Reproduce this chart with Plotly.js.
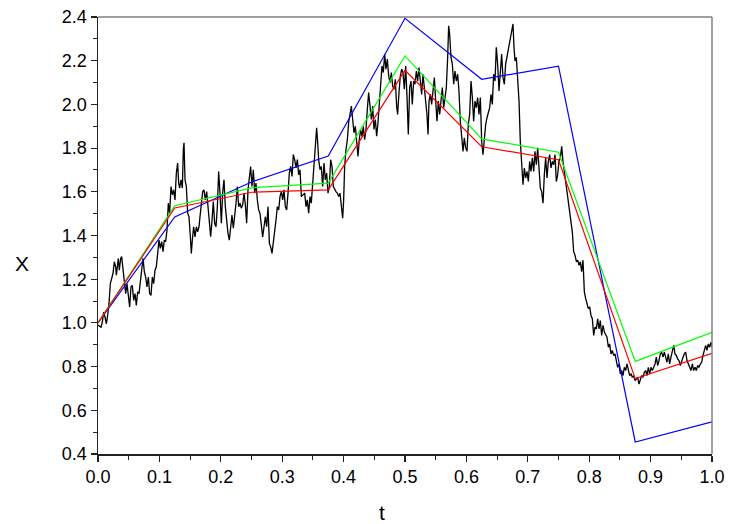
<!DOCTYPE html>
<html>
<head>
<meta charset="utf-8">
<script src="https://cdn.plot.ly/plotly-3.0.1.min.js"></script>
<style>
  html, body { margin: 0; padding: 0; background: #ffffff; }
  #chart { width: 729px; height: 524px; }
</style>
</head>
<body>
<div id="chart"></div>
<script>
// Sample path X(t)
const pathT = [
  0, 0.0049, 0.0071, 0.0092, 0.0114, 0.0136, 0.0157, 0.0179, 0.0201, 0.0223,
  0.0244, 0.0266, 0.0288, 0.0299, 0.0315, 0.0331, 0.0347, 0.0369, 0.0385, 0.0407,
  0.0429, 0.0451, 0.0472, 0.0494, 0.0516, 0.0537, 0.0559, 0.0581, 0.0603, 0.0624,
  0.0646, 0.0668, 0.0689, 0.0711, 0.0733, 0.0755, 0.0776, 0.0798, 0.082, 0.0841,
  0.0863, 0.0885, 0.0907, 0.0928, 0.095, 0.0972, 0.0993, 0.1015, 0.1037, 0.1059,
  0.108, 0.1102, 0.1124, 0.1145, 0.1167, 0.1189, 0.1211, 0.1232, 0.1254, 0.1276,
  0.1297, 0.1314, 0.133, 0.1352, 0.1374, 0.139, 0.1401, 0.1417, 0.1439, 0.146,
  0.1482, 0.1504, 0.152, 0.1536, 0.1558, 0.158, 0.1602, 0.1623, 0.1645,
  0.1661, 0.1683, 0.1705, 0.1726, 0.1748, 0.177, 0.1792, 0.1813, 0.1835, 0.1857,
  0.1878, 0.19, 0.1922, 0.1944, 0.1965, 0.1987, 0.2009, 0.203, 0.2052, 0.2074,
  0.2096, 0.2117, 0.2139, 0.2161, 0.2182, 0.2204, 0.2226, 0.2248, 0.2269, 0.2291,
  0.2313, 0.2334, 0.2356, 0.2378, 0.24, 0.2421, 0.2443, 0.2465, 0.2486, 0.2508,
  0.253, 0.2552, 0.2573, 0.2595, 0.2617, 0.2638, 0.266, 0.2682, 0.2704, 0.2725,
  0.2747, 0.2769, 0.2791, 0.2812, 0.2834, 0.2856, 0.2877, 0.2899, 0.2921, 0.2943,
  0.2964, 0.2986, 0.3008, 0.3029, 0.3051, 0.3073, 0.3095, 0.3116, 0.3138, 0.316,
  0.3181, 0.3203, 0.3225, 0.3247, 0.3268, 0.329, 0.3312,
  0.3366, 0.3388, 0.3409, 0.3431, 0.3453, 0.3474, 0.3496, 0.3518, 0.354, 0.3561,
  0.3578, 0.3594, 0.3616, 0.3637, 0.3659, 0.3681, 0.3702, 0.3724, 0.3746, 0.3768,
  0.3789, 0.3811, 0.3833, 0.3854, 0.3876, 0.3898, 0.392, 0.3941, 0.3963, 0.3985,
  0.4001, 0.4017, 0.4039, 0.4061, 0.4082, 0.4104, 0.4126, 0.4148, 0.4169, 0.4191,
  0.4213, 0.4234, 0.4256, 0.4278, 0.43, 0.4321, 0.4343, 0.4365, 0.4386, 0.4408,
  0.443, 0.4452, 0.4473, 0.4495, 0.4517, 0.4538, 0.456, 0.4582, 0.4604, 0.4625,
  0.4647, 0.4669, 0.469, 0.4712, 0.4734, 0.4756, 0.4777, 0.4799, 0.4821, 0.4842,
  0.4864, 0.488, 0.4902, 0.4924, 0.4946, 0.4967, 0.4989,
  0.5011, 0.5033, 0.5054, 0.5076, 0.5098, 0.5119, 0.5141, 0.5163, 0.5185, 0.5206,
  0.5228, 0.525, 0.5271, 0.5293, 0.5315, 0.5337, 0.5358, 0.5375, 0.5391, 0.5413,
  0.5434, 0.5456, 0.5478, 0.55, 0.5521, 0.5543, 0.5565, 0.5586, 0.5608, 0.563,
  0.5651, 0.5673, 0.5695, 0.5711, 0.5727, 0.5749, 0.5771, 0.5793, 0.5814, 0.5836,
  0.5858, 0.5879, 0.5901, 0.5923, 0.5945, 0.5966, 0.5988, 0.601, 0.6031, 0.6053,
  0.6075, 0.6097, 0.6118, 0.614, 0.6162, 0.6183, 0.6205, 0.6227, 0.6249, 0.627,
  0.6292, 0.6314, 0.6335, 0.6357, 0.6379, 0.6401, 0.6422, 0.6444, 0.6466, 0.6487,
  0.6509, 0.6531, 0.6553, 0.6574, 0.6596, 0.6618, 0.6639, 0.6661,
  0.6694, 0.6716, 0.6737, 0.6759, 0.6775, 0.6792, 0.6813, 0.6835, 0.6857, 0.6878,
  0.69, 0.6922, 0.6944, 0.6965, 0.6987, 0.7009, 0.703, 0.7052, 0.7074, 0.7096,
  0.7117, 0.7139, 0.7161, 0.7182, 0.7204, 0.7226, 0.7248, 0.7269, 0.7291, 0.7313,
  0.7334, 0.7356, 0.7378, 0.74, 0.7421, 0.7443, 0.7465, 0.7486, 0.7508, 0.753,
  0.7552, 0.7573, 0.7595, 0.7617, 0.7638, 0.766, 0.7682, 0.7704, 0.7725, 0.7736,
  0.7747, 0.7769, 0.7791, 0.7812, 0.7834, 0.7856, 0.7877, 0.7899, 0.7921, 0.7943,
  0.7964, 0.7986, 0.8008, 0.8029, 0.8051, 0.8073, 0.8095, 0.8116, 0.8138, 0.816,
  0.8181, 0.8203, 0.8225, 0.8247,
  0.829, 0.8312, 0.8333, 0.8355, 0.8377, 0.8398, 0.842, 0.8442, 0.8464, 0.8485,
  0.8507, 0.8529, 0.855, 0.8572, 0.8594, 0.8616, 0.8637, 0.8659, 0.8681, 0.8702,
  0.8724, 0.8746, 0.8768, 0.8789, 0.8811, 0.8833, 0.8854, 0.8876, 0.8898, 0.892,
  0.8941, 0.8963, 0.8985, 0.9006, 0.9028, 0.905, 0.9072, 0.9093, 0.9115, 0.9137,
  0.9158, 0.918, 0.9202, 0.9224, 0.9245, 0.9267, 0.9289, 0.931, 0.9332, 0.9354,
  0.9376, 0.9397, 0.9419, 0.9441, 0.9462, 0.9484, 0.9506, 0.9528, 0.9549, 0.9571,
  0.9593, 0.9614, 0.9636, 0.9658, 0.968, 0.9701, 0.9723, 0.9745, 0.9766, 0.9788,
  0.981, 0.9832, 0.9853, 0.9875, 0.9897, 0.9918, 0.994, 0.9962, 0.9984, 1.0
];
const pathX = [
  0.99, 0.98, 1.004, 1.05, 1.027, 0.996, 1.034, 1.088, 1.18, 1.21,
  1.226, 1.28, 1.257, 1.218, 1.28, 1.295, 1.241, 1.295, 1.303, 1.234,
  1.188, 1.134, 1.18, 1.119, 1.073, 1.165, 1.172, 1.103, 1.134, 1.08,
  1.142, 1.134, 1.18, 1.241, 1.295, 1.234, 1.21, 1.165, 1.21, 1.134,
  1.126, 1.21, 1.18, 1.241, 1.257, 1.318, 1.379, 1.341, 1.372, 1.326,
  1.379, 1.372, 1.425, 1.548, 1.502, 1.624, 1.586, 1.609, 1.563, 1.686,
  1.732, 1.64, 1.617, 1.655, 1.617, 1.793, 1.824, 1.655, 1.624, 1.502,
  1.486, 1.394, 1.318, 1.379, 1.44, 1.394, 1.44, 1.417, 1.44,
  1.486, 1.548, 1.601, 1.609, 1.563, 1.601, 1.517, 1.456, 1.394, 1.471,
  1.555, 1.456, 1.44, 1.532, 1.693, 1.594, 1.456, 1.594, 1.655, 1.532,
  1.456, 1.41, 1.379, 1.448, 1.494, 1.433, 1.486, 1.548, 1.624, 1.532,
  1.548, 1.525, 1.54, 1.594, 1.54, 1.456, 1.609, 1.67, 1.716, 1.624,
  1.701, 1.594, 1.64, 1.563, 1.517, 1.502, 1.44, 1.394, 1.44, 1.486,
  1.44, 1.532, 1.364, 1.348, 1.318, 1.364, 1.41, 1.471, 1.532, 1.517,
  1.578, 1.601, 1.563, 1.609, 1.532, 1.517, 1.594, 1.686, 1.716, 1.67,
  1.77, 1.747, 1.709, 1.747, 1.678, 1.701, 1.578,
  1.594, 1.532, 1.563, 1.502, 1.578, 1.548, 1.64, 1.747, 1.839, 1.893,
  1.824, 1.747, 1.701, 1.716, 1.624, 1.732, 1.655, 1.686, 1.594, 1.624,
  1.747, 1.716, 1.624, 1.609, 1.601, 1.594, 1.578, 1.594, 1.532, 1.479,
  1.563, 1.716, 1.793, 1.839, 1.916, 1.962, 1.992, 1.931, 1.87, 1.9,
  1.839, 1.762, 1.839, 1.885, 1.854, 1.9, 1.839, 1.885, 1.977, 2.054,
  1.992, 1.931, 1.992, 1.885, 1.931, 1.854, 1.916, 2.023, 2.084, 2.176,
  2.146, 2.23, 2.161, 2.207, 2.13, 2.1, 2.146, 2.084, 2.069, 2.115,
  1.992, 1.954, 2.054, 2.13, 2.161, 2.146, 2.069,
  2.176, 2.031, 1.862, 2.077, 2.107, 2.0, 2.107, 2.092, 2.153, 2.107,
  2.169, 2.107, 2.046, 2.138, 2.077, 2.031, 1.954, 1.862, 2.015, 2.046,
  2.0, 2.061, 2.123, 2.015, 1.923, 2.015, 1.954, 2.015, 2.077, 1.985,
  2.031, 2.077, 2.215, 2.36, 2.322, 2.215, 2.184, 2.092, 2.153, 2.107,
  2.138, 2.061, 1.923, 1.831, 1.785, 1.847, 1.801, 1.785, 1.908, 1.954,
  2.107, 2.031, 1.923, 2.015, 1.985, 2.031, 1.954, 2.031, 1.831, 1.77,
  1.862, 1.908, 1.939, 1.969, 1.985, 2.046, 2.0, 2.138, 2.107, 2.261,
  2.184, 2.061, 2.153, 2.23, 2.123, 2.092, 2.184, 2.215,
  2.261, 2.307, 2.337, 2.368, 2.261, 2.199, 2.215, 2.107, 2.015, 1.831,
  1.739, 1.632, 1.709, 1.663, 1.693, 1.647, 1.739, 1.693, 1.755, 1.693,
  1.785, 1.724, 1.801, 1.709, 1.617, 1.601, 1.548, 1.678, 1.755, 1.663,
  1.739, 1.77, 1.709, 1.739, 1.724, 1.77, 1.647, 1.678, 1.739, 1.755,
  1.808, 1.739, 1.693, 1.647, 1.601, 1.555, 1.509, 1.463, 1.417, 1.372,
  1.326, 1.31, 1.28, 1.287, 1.264, 1.28, 1.234, 1.287, 1.142, 1.111,
  1.08, 1.065, 1.073, 1.034, 1.019, 0.943, 0.981, 0.973, 1.019, 0.973,
  1.011, 0.943, 0.989, 0.958,
  0.935, 0.889, 0.904, 0.858, 0.874, 0.851, 0.858, 0.82, 0.797, 0.812,
  0.766, 0.782, 0.759, 0.797, 0.782, 0.812, 0.782, 0.759, 0.766, 0.751,
  0.759, 0.736, 0.743, 0.751, 0.72, 0.743, 0.759, 0.751, 0.774, 0.782,
  0.759, 0.797, 0.766, 0.797, 0.782, 0.797, 0.812, 0.843, 0.805, 0.828,
  0.858, 0.866, 0.843, 0.866, 0.843, 0.82, 0.858, 0.812, 0.843, 0.874,
  0.897, 0.858, 0.851, 0.835, 0.828, 0.805, 0.828, 0.843, 0.858, 0.866,
  0.828, 0.812, 0.789, 0.782, 0.812, 0.782, 0.797, 0.782, 0.805, 0.797,
  0.812, 0.82, 0.851, 0.881, 0.897, 0.874, 0.904, 0.889, 0.912, 0.889
];

// Coarse piecewise-linear approximations on the grid t = k/8
const gridT = [0, 0.125, 0.25, 0.375, 0.5, 0.625, 0.75, 0.875, 1.0];
const blueX  = [1.0, 1.485, 1.645, 1.764, 2.394, 2.115, 2.175, 0.455, 0.547];
const greenX = [1.0, 1.536, 1.618, 1.640, 2.222, 1.842, 1.781, 0.824, 0.957];
const redX   = [1.0, 1.526, 1.598, 1.609, 2.156, 1.806, 1.747, 0.745, 0.861];

// Axis tick labels
const xTickVals = [0, 0.1, 0.2, 0.3, 0.4, 0.5, 0.6, 0.7, 0.8, 0.9, 1.0];
const xTickText = ['0.0', '0.1', '0.2', '0.3', '0.4', '0.5', '0.6', '0.7', '0.8', '0.9', '1.0'];
const yTickVals = [0.4, 0.6, 0.8, 1.0, 1.2, 1.4, 1.6, 1.8, 2.0, 2.2, 2.4];
const yTickText = ['0.4', '0.6', '0.8', '1.0', '1.2', '1.4', '1.6', '1.8', '2.0', '2.2', '2.4'];

const FONT = 'Liberation Sans, Arial, Helvetica, sans-serif';

const traces = [
  { x: pathT, y: pathX, mode: 'lines', line: { color: '#000000', width: 1.3 }, hoverinfo: 'skip' },
  { x: gridT, y: blueX, mode: 'lines', line: { color: '#0000ff', width: 1.2 }, hoverinfo: 'skip' },
  { x: gridT, y: greenX, mode: 'lines', line: { color: '#00ff00', width: 1.2 }, hoverinfo: 'skip' },
  { x: gridT, y: redX, mode: 'lines', line: { color: '#ff0000', width: 1.2 }, hoverinfo: 'skip' }
];

const axisCommon = {
  showgrid: false,
  zeroline: false,
  showline: true,
  linecolor: '#222222',
  linewidth: 1.5,
  ticks: 'outside',
  ticklen: 6,
  tickwidth: 1.2,
  tickcolor: '#222222',
  tickfont: { family: FONT, size: 18, color: '#000000' },
  tickmode: 'array',
  layer: 'above traces'
};

const layout = {
  width: 729,
  height: 524,
  margin: { l: 98, r: 17, t: 17, b: 70, pad: 0 },
  paper_bgcolor: '#ffffff',
  plot_bgcolor: '#ffffff',
  showlegend: false,
  hovermode: false,
  xaxis: Object.assign({}, axisCommon, {
    range: [0, 1],
    tickvals: xTickVals,
    ticktext: xTickText,
    minor: { tickvals: [0.05, 0.15, 0.25, 0.35, 0.45, 0.55, 0.65, 0.75, 0.85, 0.95], ticks: 'outside', ticklen: 4, tickwidth: 1, tickcolor: '#222222', showgrid: false }
  }),
  yaxis: Object.assign({}, axisCommon, {
    range: [0.4, 2.4],
    tickvals: yTickVals,
    ticktext: yTickText,
    minor: { tickvals: [0.5, 0.7, 0.9, 1.1, 1.3, 1.5, 1.7, 1.9, 2.1, 2.3], ticks: 'outside', ticklen: 4, tickwidth: 1, tickcolor: '#222222', showgrid: false }
  }),
  shapes: [
    // light frame closing the top and right sides of the plot box
    { type: 'line', xref: 'paper', yref: 'paper', x0: 0, x1: 1, y0: 1, y1: 1, line: { color: '#808080', width: 1.5 } },
    { type: 'line', xref: 'paper', yref: 'paper', x0: 1, x1: 1, y0: 0, y1: 1, line: { color: '#808080', width: 1.5 } }
  ],
  annotations: [
    { text: 't', xref: 'paper', yref: 'paper', x: 0.4625, y: -0.104, xanchor: 'center', yanchor: 'top', showarrow: false, font: { family: FONT, size: 21, color: '#000000' } },
    { text: 'X', xref: 'paper', yref: 'paper', x: -0.124, y: 0.437, xanchor: 'center', yanchor: 'middle', showarrow: false, font: { family: FONT, size: 21, color: '#000000' } }
  ]
};

Plotly.newPlot('chart', traces, layout, { displayModeBar: false, staticPlot: true });
</script>
</body>
</html>
